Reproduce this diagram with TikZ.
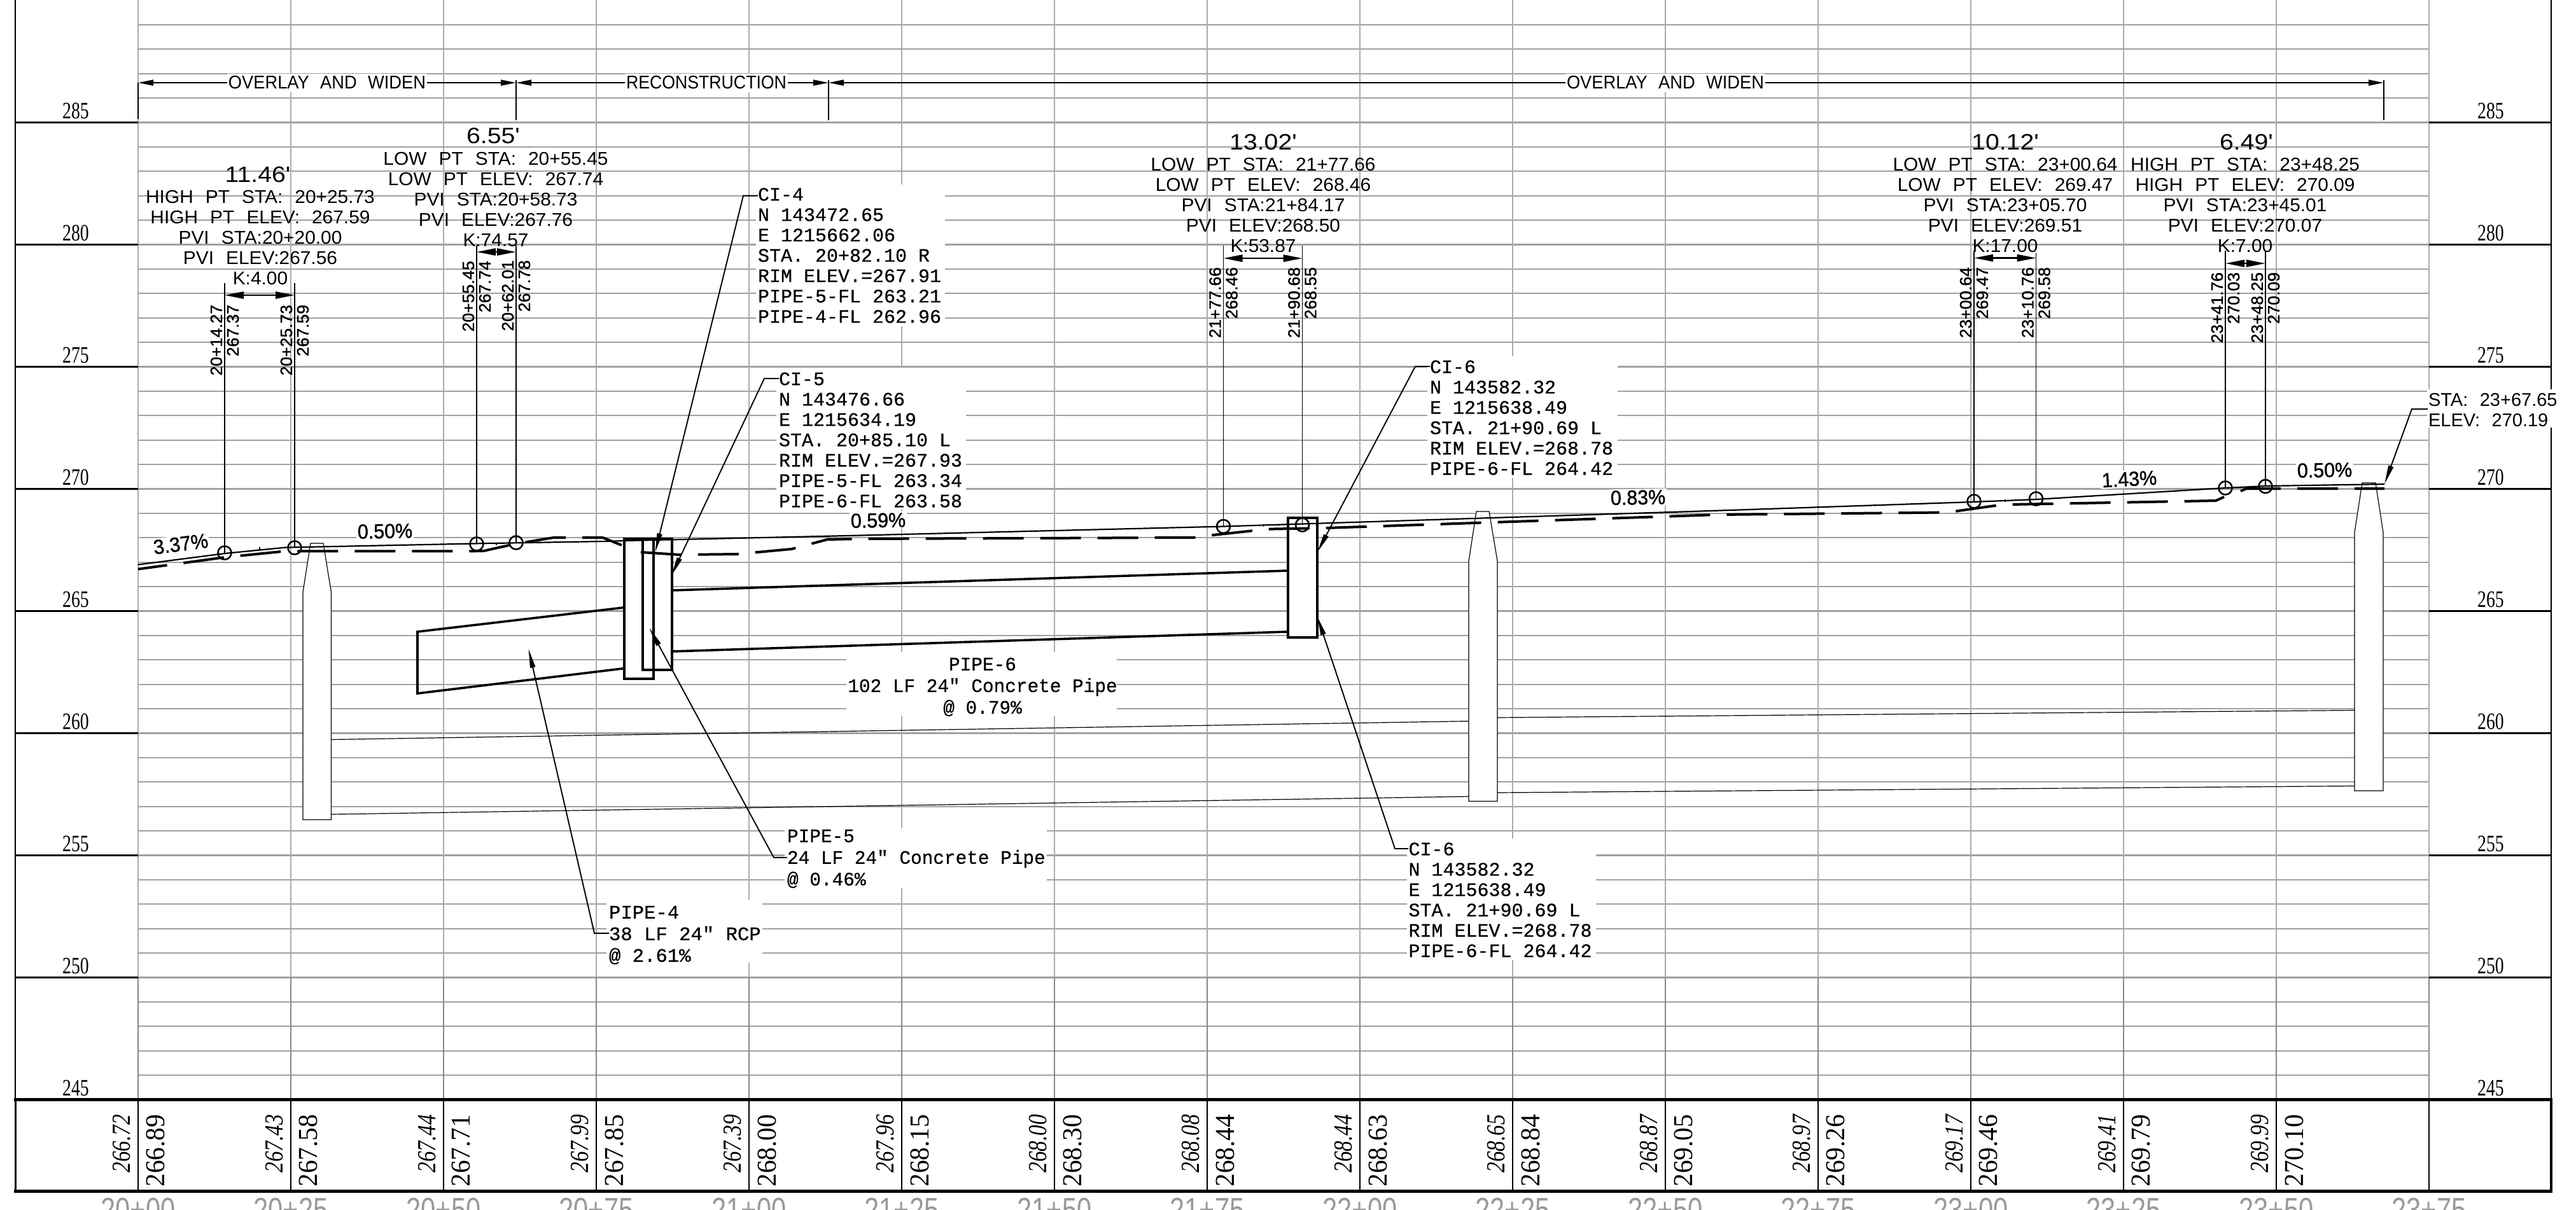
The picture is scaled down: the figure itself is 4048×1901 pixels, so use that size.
\documentclass[tikz,border=0pt]{standalone}
\usepackage{fontspec}
\usepackage{graphicx}
\usetikzlibrary{arrows.meta}
\newfontfamily\cadfont[WordSpace=2.3]{Liberation Sans}
\newfontfamily\rotf[WordSpace=2.3,FakeBold=1.2]{Liberation Sans}
\newfontfamily\monof[FakeBold=0.6]{Liberation Mono}
\newfontfamily\serf{Liberation Serif}
\newcommand\sx[2]{\scalebox{#1}[1]{#2}}
\newcommand\blk[3]{\scalebox{#1}[1]{\begin{tabular}{@{}#2@{}}#3\end{tabular}}}
\definecolor{gridh}{HTML}{A0A0A0}
\definecolor{gridv}{HTML}{ABABAB}
\definecolor{gridd}{HTML}{888888}
\tikzset{
  hgrid/.style={gridh,line width=2.2pt},
  vgrid/.style={gridv,line width=2pt},
  dgrid/.style={gridd,line width=2pt},
  tick/.style={black,line width=3.2pt},
  border/.style={black,line width=2.2pt},
  tabline/.style={black,line width=1.4pt},
  tabedge/.style={black,line width=5pt},
  mask/.style={fill=white,draw=none},
  txt/.style={inner sep=0pt,outer sep=0pt,text=black},
  elevlab/.style={txt,font=\serf\fontsize{37}{37}\selectfont},
  dimlab/.style={txt,fill=white,inner xsep=2pt,minimum height=29pt,font=\cadfont\fontsize{29}{32}\selectfont},
  dimline/.style={line width=2.2pt,{Triangle[length=24pt,width=9pt]}-{Triangle[length=24pt,width=9pt]}},
  extline/.style={line width=1.6pt},
  vcblock/.style={txt,anchor=north,font=\cadfont\fontsize{29}{32}\selectfont},
  bigdim/.style={txt,font=\cadfont\fontsize{35}{35}\selectfont},
  civil/.style={txt,anchor=north west,font=\monof\fontsize{30}{32}\selectfont},
  pipelab/.style={txt,font=\monof\fontsize{30}{34}\selectfont},
  rotlab/.style={txt,rotate=90,anchor=east,font=\rotf\fontsize{26}{26}\selectfont},
  slope/.style={inner sep=2pt,fill=white,text=black,font=\rotf\fontsize{32}{32}\selectfont},
  vline/.style={line width=1.9pt},
  kdim/.style={line width=2.4pt,{Triangle[length=30pt,width=11pt]}-{Triangle[length=30pt,width=11pt]}},
  pvi/.style={circle,draw=black,line width=2.6pt,minimum size=21pt,inner sep=0pt},
  exist/.style={line width=2.2pt,line join=round},
  prop/.style={line width=4pt,line join=round,dash pattern=on 64pt off 26pt},
  thin/.style={line width=1.2pt},
  pipeline/.style={line width=3.6pt},
  struct/.style={line width=3.2pt},
  leader/.style={line width=1.9pt,-{Triangle[length=30pt,width=8pt]}},
  lowval/.style={txt,rotate=90,anchor=east,font=\serf\itshape\fontsize{41}{41}\selectfont},
  highval/.style={txt,rotate=90,anchor=east,font=\serf\fontsize{43}{43}\selectfont},
  stalab/.style={txt,anchor=north,text=black!40,font=\cadfont\fontsize{52}{52}\selectfont},
}
\begin{document}
\begin{tikzpicture}[x=1pt,y=-1pt]
\useasboundingbox (0,0) rectangle (4048,1901);
\clip (0,0) rectangle (4048,1901);
\fill[white] (0,0) rectangle (4048,1901);
% grid
\foreach \k in {-4,...,39}{
  \pgfmathsetmacro\yy{192.4+38.4*\k}
  \draw[hgrid] (217,\yy) -- (3817,\yy);
}
\foreach \i in {0,...,15}{
  \pgfmathsetmacro\xx{217+240*\i}
  \draw[vgrid] (\xx,0) -- (\xx,1536);
  \draw[dgrid] (\xx,1536) -- (\xx,1728);
  \draw[tabline] (\xx,1728) -- (\xx,1872);
}
% elevation axis
\foreach \e/\k in {285/0,280/1,275/2,270/3,265/4,260/5,255/6,250/7,245/8}{
  \pgfmathsetmacro\yy{192.4+192*\k}
  \pgfmathsetmacro\yl{\yy-18}
  \ifnum\k<8
    \draw[tick] (24,\yy) -- (217,\yy);
    \draw[tick] (3817,\yy) -- (4009,\yy);
  \fi
  \node[elevlab] (el\e) at (119,\yl) {\sx{.75}{\e}};
  \node[elevlab] (er\e) at (3914,\yl) {\sx{.75}{\e}};
}
\draw[border] (24,0) -- (24,1728);
\draw[border] (4009,0) -- (4009,1728);
% white label backgrounds
\fill[mask] (1188,290) rectangle (1485,513);
\fill[mask] (1220,578) rectangle (1518,800);
\fill[mask] (2243,560) rectangle (2542,752);
\fill[mask] (1330,1025) rectangle (1755,1125);
\fill[mask] (1233,1302) rectangle (1645,1396);
\fill[mask] (2211,1318) rectangle (2508,1509);
\fill[mask] (953,1415) rectangle (1198,1513);
\fill[mask] (3814,612) rectangle (4045,672);
% table
\draw[tabedge] (22,1728) -- (4011,1728);
\draw[tabedge] (22,1872) -- (4011,1872);
\draw[line width=3pt] (24,1728) -- (24,1874);
\draw[line width=4pt] (4009,1728) -- (4009,1874);
\foreach \i/\a/\b in {0/266.72/266.89,1/267.43/267.58,2/267.44/267.71,3/267.99/267.85,4/267.39/268.00,5/267.96/268.15,6/268.00/268.30,7/268.08/268.44,8/268.44/268.63,9/268.65/268.84,10/268.87/269.05,11/268.97/269.26,12/269.17/269.46,13/269.41/269.79,14/269.99/270.10}{
  \pgfmathsetmacro\xl{217+240*\i-26}
  \pgfmathsetmacro\xh{217+240*\i+28}
  \node[lowval] (lo\i) at (\xl,1752) {\sx{.81}{\a}};
  \node[highval] (hi\i) at (\xh,1752) {\sx{.96}{\b}};
}
\foreach \i/\s in {0/20+00,1/20+25,2/20+50,3/20+75,4/21+00,5/21+25,6/21+50,7/21+75,8/22+00,9/22+25,10/22+50,11/22+75,12/23+00,13/23+25,14/23+50,15/23+75}{
  \pgfmathsetmacro\xx{217+240*\i}
  \node[stalab] (st\i) at (\xx,1883) {\sx{.8}{\s}};
}
% section dimension bar
\coordinate (d0) at (217,130); \coordinate (d1) at (811,130); \coordinate (d2) at (1302,130); \coordinate (d3) at (3746,130);
\coordinate (d0b) at (217,187); \coordinate (d1t) at (811,126); \coordinate (d1b) at (811,189);
\coordinate (d2t) at (1302,126); \coordinate (d2b) at (1302,189); \coordinate (d3t) at (3746,126); \coordinate (d3b) at (3746,189);
\draw[extline] (d0) -- (d0b);
\draw[extline] (d1t) -- (d1b);
\draw[extline] (d2t) -- (d2b);
\draw[extline] (d3t) -- (d3b);
\draw[dimline] (d0) -- (d1);
\draw[dimline] (d1) -- (d2);
\draw[dimline] (d2) -- (d3);
\node[dimlab] (ov1) at (514,130) {\sx{.94}{OVERLAY AND WIDEN}};
\node[dimlab] (rec) at (1110,130) {\sx{.92}{RECONSTRUCTION}};
\node[dimlab] (ov2) at (2617,130) {\sx{.94}{OVERLAY AND WIDEN}};
% grade labels
\node[slope,rotate=7.4] (g1) at (284,855) {\sx{.95}{3.37\%}};
\node[slope,rotate=1] (g2) at (605,835) {\sx{.95}{0.50\%}};
\node[slope,rotate=1] (g3) at (1380,818) {\sx{.95}{0.59\%}};
\node[slope,rotate=1] (g4) at (2574,782) {\sx{.95}{0.83\%}};
\node[slope,rotate=3] (g5) at (3346,753) {\sx{.95}{1.43\%}};
\node[slope,rotate=1] (g6) at (3653,739) {\sx{.95}{0.50\%}};
% drainage cross-structures
\path[fill=white] (476,1288.5) -- (476,931) -- (488,854) -- (508,854) -- (520.5,931) -- (520.5,1288.5) -- cycle;
\path[fill=white] (2308,1259.5) -- (2308,882) -- (2320,804) -- (2340,804) -- (2353,882) -- (2353,1259.5) -- cycle;
\path[fill=white] (3700,1243) -- (3700,837) -- (3712,759) -- (3733,759) -- (3745,837) -- (3745,1243) -- cycle;
\fill[white] (981,847) rectangle (1056,1067);
\fill[white] (2024,814) rectangle (2070,1002);
% existing ground
\draw[exist] (217,887.6) -- (353,870) -- (448,860.6) -- (749,854.4) -- (947,851) -- (981,850) -- (1350,841.6) -- (1922.5,827.5) -- (2700,802.6) -- (3100,789) -- (3199,785) -- (3497,767) -- (3560,764) -- (3747,761);
% proposed profile
\draw[prop,dash phase=18pt] (217,894.6) -- (353,876) -- (448,866.4) -- (740,866.4) -- (760,866) -- (809,855) -- (870,845) -- (947,845) -- (977,857);
\draw[prop] (1007,868) -- (1068,872) -- (1158,871) -- (1244,863) -- (1300,848) -- (1350,847) -- (1875,845) -- (1901,841.6) -- (1966,834.5) -- (1996,831.6) -- (2082,830) -- (2700,809) -- (3044,805.6) -- (3074,803.5) -- (3134,795) -- (3160,793) -- (3482,787) -- (3495,781);
\draw[prop] (3521,772) -- (3530,768) -- (3747,768);
\draw[line width=1.5pt] (408,860) -- (408,864);
\draw[line width=1.5pt] (780,853) -- (780,857);
\draw[line width=1.5pt] (1985.5,824) -- (1985.5,828);
\draw[line width=1.5pt] (3151,785) -- (3151,789);
% cross structure outlines and lines
\draw[thin] (476,1288.5) -- (476,931) -- (488,854) -- (508,854) -- (520.5,931) -- (520.5,1288.5) -- cycle;
\draw[thin] (2308,1259.5) -- (2308,882) -- (2320,804) -- (2340,804) -- (2353,882) -- (2353,1259.5) -- cycle;
\draw[thin] (3700,1243) -- (3700,837) -- (3712,759) -- (3733,759) -- (3745,837) -- (3745,1243) -- cycle;
\draw[thin] (521,1162.5) -- (2308,1133.6);
\draw[thin] (2353,1128) -- (3700,1116.5);
\draw[thin] (521,1280) -- (2308,1252);
\draw[thin] (2353,1246) -- (3700,1235.5);
% pipes
\draw[pipeline] (980,955) -- (656,993) -- (656,1090) -- (980,1050.7);
\draw[pipeline] (1056,928) -- (2024,897);
\draw[pipeline] (1056,1024) -- (2024,993);
\draw[struct] (981,847) rectangle (1027,1067);
\draw[struct] (1010,847) rectangle (1056,1053);
\draw[struct] (2024,814) rectangle (2070,1002);
% PVI points and vertical leaders
\foreach \n/\x/\y/\t in {a/353/869/445,b/463/861/445,c/749/855/386,d/811/853/386,e/1922.5/827.5/386,f/2046.5/825/386,g/3102/788/394,h/3199.5/784/397,i/3497/767/394,j/3560/764.5/394}{
  \node[pvi] (p\n) at (\x,\y) {};
  \coordinate (q\n) at (\x,\t);
  \draw[vline] (q\n) -- (p\n.center);
}
\coordinate (ka) at (353,464); \coordinate (kb) at (463,464);
\coordinate (kc) at (749,396); \coordinate (kd) at (811,396);
\coordinate (ke) at (1922.5,406); \coordinate (kf) at (2046.5,406);
\coordinate (kg) at (3102,405.5); \coordinate (kh) at (3199.5,405.5);
\coordinate (ki) at (3497,414); \coordinate (kj) at (3560,414);
\draw[kdim] (ka) -- (kb);
\draw[kdim] (kc) -- (kd);
\draw[kdim] (ke) -- (kf);
\draw[kdim] (kg) -- (kh);
\draw[kdim] (ki) -- (kj);
% rotated station / elevation labels
\foreach \n/\x/\y/\s/\e in {a/353/479/20+14.27/267.37,b/463/479/20+25.73/267.59,c/749/410/20+55.45/267.74,d/811/409/20+62.01/267.78,e/1922.5/420/21+77.66/268.46,f/2046.5/420/21+90.68/268.55,g/3102/420/23+00.64/269.47,h/3199.5/420/23+10.76/269.58,i/3497/428/23+41.76/270.03,j/3560/428/23+48.25/270.09}{
  \pgfmathsetmacro\xa{\x-13}
  \pgfmathsetmacro\xb{\x+13}
  \node[rotlab] (rs\n) at (\xa,\y) {\sx{1.02}{\s}};
  \node[rotlab] (re\n) at (\xb,\y) {\sx{1.02}{\e}};
}
% vertical curve text
\node[bigdim] (v1) at (405,274) {\sx{1.12}{11.46'}};
\node[vcblock] (b1) at (409,297) {\blk{1.03}{c}{HIGH PT STA: 20+25.73\\HIGH PT ELEV: 267.59\\PVI STA:20+20.00\\PVI ELEV:267.56\\K:4.00}};
\node[bigdim] (v2) at (775,213.5) {\sx{1.12}{6.55'}};
\node[vcblock] (b2) at (779,237) {\blk{1.03}{c}{LOW PT STA: 20+55.45\\LOW PT ELEV: 267.74\\PVI STA:20+58.73\\PVI ELEV:267.76\\K:74.57}};
\node[bigdim] (v3) at (1985,223) {\sx{1.12}{13.02'}};
\node[vcblock] (b3) at (1985,246) {\blk{1.03}{c}{LOW PT STA: 21+77.66\\LOW PT ELEV: 268.46\\PVI STA:21+84.17\\PVI ELEV:268.50\\K:53.87}};
\node[bigdim] (v4) at (3151,223) {\sx{1.12}{10.12'}};
\node[vcblock] (b4) at (3151,246) {\blk{1.03}{c}{LOW PT STA: 23+00.64\\LOW PT ELEV: 269.47\\PVI STA:23+05.70\\PVI ELEV:269.51\\K:17.00}};
\node[bigdim] (v5) at (3530,223) {\sx{1.12}{6.49'}};
\node[vcblock] (b5) at (3528,246) {\blk{1.03}{c}{HIGH PT STA: 23+48.25\\HIGH PT ELEV: 270.09\\PVI STA:23+45.01\\PVI ELEV:270.07\\K:7.00}};
% structure and pipe notes
\node[civil] (ci4) at (1191,293) {\blk{1}{l}{CI-4\\N 143472.65\\E 1215662.06\\STA. 20+82.10 R\\RIM ELEV.=267.91\\PIPE-5-FL 263.21\\PIPE-4-FL 262.96}};
\node[civil] (ci5) at (1224,583) {\blk{1}{l}{CI-5\\N 143476.66\\E 1215634.19\\STA. 20+85.10 L\\RIM ELEV.=267.93\\PIPE-5-FL 263.34\\PIPE-6-FL 263.58}};
\node[civil] (ci6a) at (2247,564) {\blk{1}{l}{CI-6\\N 143582.32\\E 1215638.49\\STA. 21+90.69 L\\RIM ELEV.=268.78\\PIPE-6-FL 264.42}};
\node[civil] (ci6b) at (2213.5,1322) {\blk{1}{l}{CI-6\\N 143582.32\\E 1215638.49\\STA. 21+90.69 L\\RIM ELEV.=268.78\\PIPE-6-FL 264.42}};
\node[pipelab,anchor=north] (p6) at (1544,1030) {\blk{.98}{c}{PIPE-6\\102 LF 24" Concrete Pipe\\@ 0.79\%}};
\node[pipelab,anchor=north west] (p5) at (1237,1300) {\blk{.98}{l}{PIPE-5\\24 LF 24" Concrete Pipe\\@ 0.46\%}};
\node[pipelab,anchor=north west] (p4) at (957,1420) {\blk{1.02}{l}{PIPE-4\\38 LF 24" RCP\\@ 2.61\%}};
\node[txt,anchor=north west,font=\cadfont\fontsize{29}{32}\selectfont] (stae) at (3816,616) {\blk{1}{l}{STA: 23+67.65\\ELEV: 270.19}};
% leaders
\coordinate (l4s) at (1191,307.6); \coordinate (l4k) at (1168,307.6); \coordinate (l4t) at (1029.5,868);
\coordinate (l5s) at (1224,595); \coordinate (l5k) at (1201,595); \coordinate (l5t) at (1055,905);
\coordinate (l6s) at (2247,576); \coordinate (l6k) at (2224,576); \coordinate (l6t) at (2070,868);
\coordinate (l7s) at (2213,1334); \coordinate (l7k) at (2192,1334); \coordinate (l7t) at (2070,969);
\coordinate (l8s) at (1237,1348); \coordinate (l8k) at (1216,1348); \coordinate (l8t) at (1020.5,987);
\coordinate (l9s) at (957,1467); \coordinate (l9k) at (934,1467); \coordinate (l9t) at (830.5,1020);
\coordinate (l0s) at (3815,643); \coordinate (l0k) at (3790,643); \coordinate (l0t) at (3747,761);
\draw[leader] (l4s) -- (l4k) -- (l4t);
\draw[leader] (l5s) -- (l5k) -- (l5t);
\draw[leader] (l6s) -- (l6k) -- (l6t);
\draw[leader] (l7s) -- (l7k) -- (l7t);
\draw[leader] (l8s) -- (l8k) -- (l8t);
\draw[leader] (l9s) -- (l9k) -- (l9t);
\draw[leader] (l0s) -- (l0k) -- (l0t);
\end{tikzpicture}
\end{document}
